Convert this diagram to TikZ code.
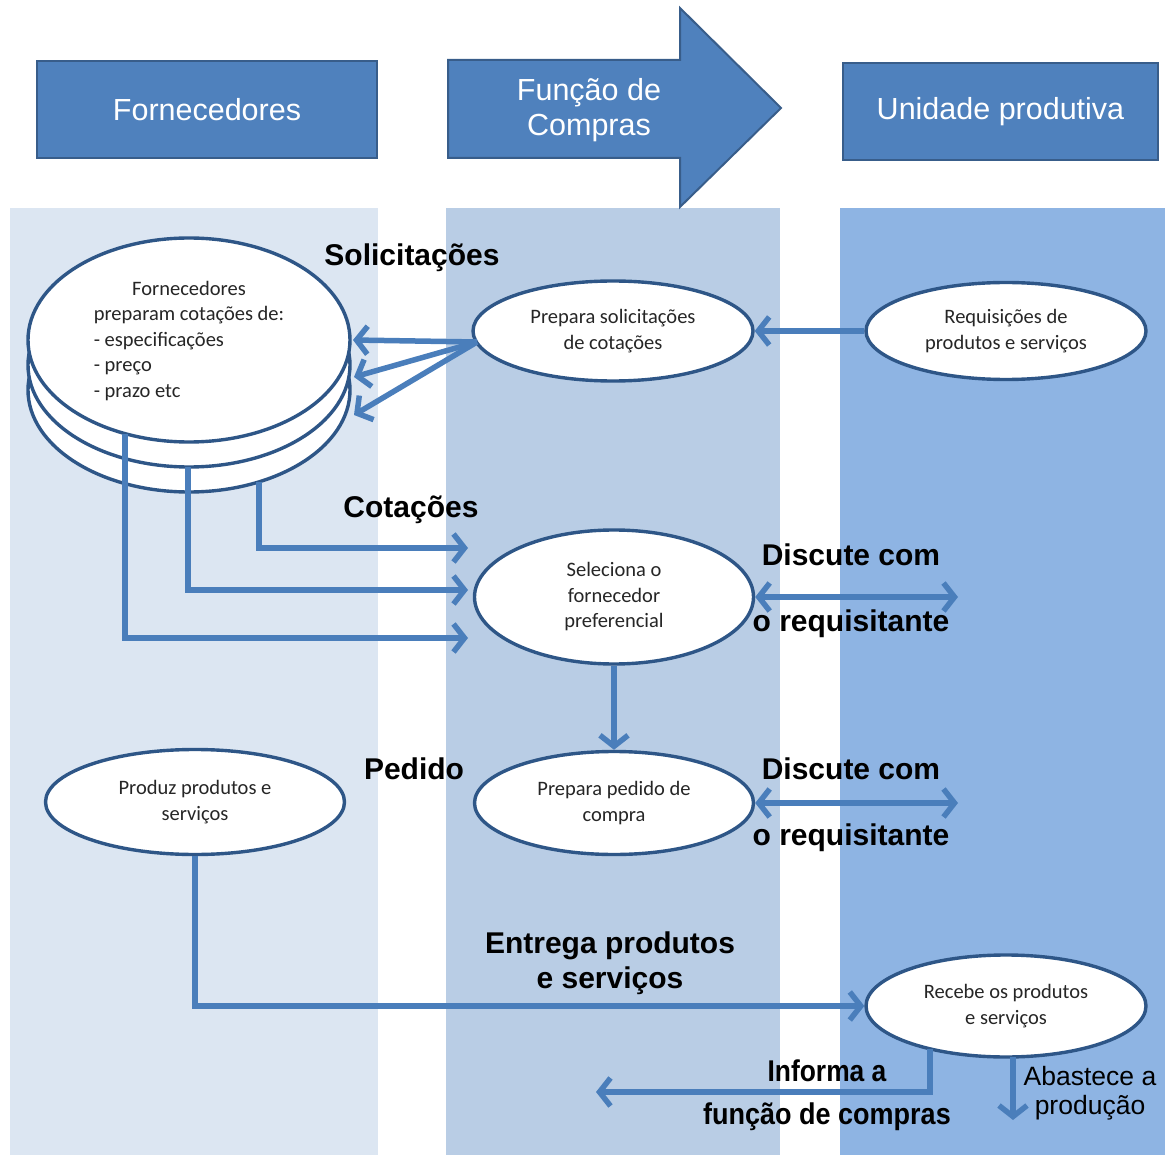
\documentclass[tikz,border=0pt]{standalone}
\usepackage{fontspec}
\usepackage{graphicx}
\setmainfont{Liberation Sans}
\newfontfamily\bubblefont{Carlito}
\usetikzlibrary{arrows.meta,shapes.geometric,calc}

\definecolor{laneA}{HTML}{DCE6F2}
\definecolor{laneB}{HTML}{B9CDE5}
\definecolor{laneC}{HTML}{8EB4E3}
\definecolor{headfill}{HTML}{4F81BD}
\definecolor{headline}{HTML}{385D8A}
\definecolor{flow}{HTML}{4A7EBB}
\definecolor{rim}{HTML}{2E5687}

\tikzset{
  hdr/.style={draw=headline, line width=2pt, fill=headfill},
  hdrtext/.style={text=white, align=center, font=\fontsize{30.5}{35}\selectfont},
  bub/.style={ellipse, draw=rim, line width=3.4pt, fill=white, inner sep=0pt,
    align=center, text=black!85, font=\bubblefont\fontsize{20.5}{25.5}\selectfont},
  disk/.style={draw=rim, line width=3.4pt, fill=white},
  tipB/.tip={Straight Barb[length=11pt,width=28pt]},
  arr/.style={draw=flow, line width=5.5pt, -tipB},
  arrtwo/.style={draw=flow, line width=5.5pt, tipB-tipB},
  lbl/.style={font=\bfseries\fontsize{30}{35}\selectfont, align=center, text=black},
  plainlbl/.style={font=\fontsize{26.5}{29}\selectfont, align=center, text=black}
}

\begin{document}
\begin{tikzpicture}[x=1pt,y=-1pt]
\useasboundingbox (0,0) rectangle (1165,1155);

% swimlanes
\path[fill=laneA] (10,208) rectangle (378,1155);
\path[fill=laneB] (446,208) rectangle (780,1155);
\path[fill=laneC] (840,208) rectangle (1165,1155);

% headers
\node[hdr, minimum width=340pt, minimum height=97pt] (hF) at (207,109.5) {};
\node[hdrtext] (hFt) at (hF.center) {Fornecedores};
\draw[hdr] (448,60) -- (680,60) -- (680,8) -- (781,108) -- (680,207)
  -- (680,158) -- (448,158) -- cycle;
\node[hdrtext] (hC) at (589,110) {Função de\\Compras};
\node[hdr, minimum width=315pt, minimum height=97pt] (hU) at (1000.5,111.5) {};
\node[hdrtext] (hUt) at (hU.center) {Unidade produtiva};

% stack of supplier disks
\draw[disk] (189,390) ellipse [x radius=161pt, y radius=102pt];
\draw[disk] (189,365) ellipse [x radius=161pt, y radius=102pt];
\node[bub, minimum width=322pt, minimum height=204pt] (stack) at (189,340) {};
\node[font=\bubblefont\fontsize{20.5}{25.5}\selectfont, text=black!85, inner sep=0pt]
  (stacktxt) at (189,341) {\def\arraystretch{1}\begin{tabular}{@{}l@{}}
  \multicolumn{1}{@{}c@{}}{Fornecedores}\\
  preparam cotações de:\\
  - especificações\\
  - preço\\
  - prazo etc
  \end{tabular}};

% process bubbles
\node[bub, minimum width=280pt, minimum height=100pt] (prep) at (613,331)
  {Prepara solicitações\\de cotações};
\node[bub, minimum width=280pt, minimum height=97pt] (req) at (1006,331)
  {Requisições de\\produtos e serviços};
\node[bub, minimum width=279pt, minimum height=134pt] (sel) at (614,597)
  {Seleciona o\\fornecedor\\preferencial};
\node[bub, minimum width=279pt, minimum height=103pt] (ped) at (614,803)
  {Prepara pedido de\\compra};
\node[bub, minimum width=299pt, minimum height=105pt] (prod) at (195,802)
  {Produz produtos e\\serviços};
\node[bub, minimum width=280pt, minimum height=102pt] (rec) at (1006,1006)
  {Recebe os produtos\\e serviços};

% connector end points
\coordinate (fan) at (477,342);
\coordinate (s1) at (353,340);
\coordinate (s2) at (354,377);
\coordinate (s3) at (354,415);
\coordinate (q1) at (125,434);
\coordinate (q2) at (188,467);
\coordinate (q3) at (259,482);
\coordinate (c1) at (468,638);
\coordinate (c2) at (468,590);
\coordinate (c3) at (468,548);
\coordinate (d1) at (958,597);
\coordinate (d2) at (958,803);
\coordinate (i0) at (930,1049);
\coordinate (i1) at (596,1092);
\coordinate (a0) at (1013,1057);
\coordinate (a1) at (1013,1120);

% requests
\draw[arr] (req.west) -- (prep.east);
\draw[arr] (fan) -- (s1);
\draw[arr] (fan) -- (s2);
\draw[arr] (fan) -- (s3);

% quotations
\draw[arr] (q3) |- (c3);
\draw[arr] (q2) |- (c2);
\draw[arr] (q1) |- (c1);

% discussions and order
\draw[arrtwo] (sel.east) -- (d1);
\draw[arr] (sel.south) -- (ped.north);
\draw[arrtwo] (ped.east) -- (d2);

% delivery
\draw[arr] (prod.south) |- (rec.west);
\draw[arr] (i0) |- (i1);
\draw[arr] (a0) -- (a1);

% labels
\node[lbl] (lSol) at (412,258) {Solicitações};
\node[lbl] (lCot) at (411,510) {Cotações};
\node[lbl] (lD1) at (851,555) {Discute com};
\node[lbl] (lR1) at (851,624) {o requisitante};
\node[lbl] (lPed) at (414,769) {Pedido};
\node[lbl] (lD2) at (851,769) {Discute com};
\node[lbl] (lR2) at (851,838) {o requisitante};
\node[lbl] (lEnt) at (610,963) {Entrega produtos\\e serviços};
\node[lbl] (lInf) at (827,1071) {\scalebox{0.88}[1]{Informa a}};
\node[lbl] (lFun) at (827,1117) {\scalebox{0.9}[1]{função de compras}};
\node[plainlbl] (lAba) at (1090,1093) {Abastece a\\produção};
\end{tikzpicture}
\end{document}
